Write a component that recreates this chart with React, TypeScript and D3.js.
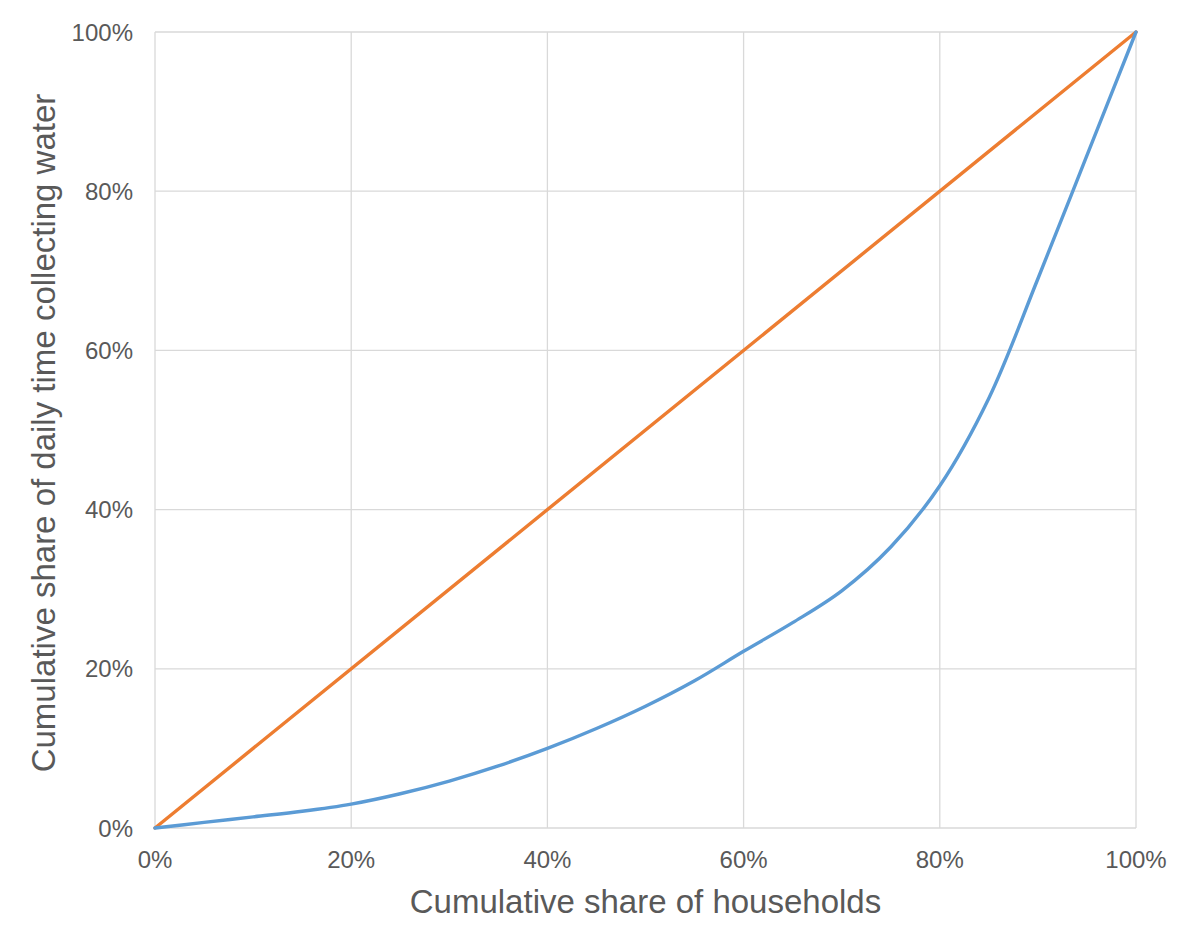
import React, {useRef, useEffect} from "react";
import {select, scaleLinear, line, curveCatmullRom} from "d3";

// cumulative share of households (%)
const householdShare = [0, 5, 10, 15, 20, 25, 30, 35, 40, 45, 50, 55, 60, 65, 70, 75, 80, 85, 90, 95, 100];
// cumulative share of daily time collecting water (%)
const timeShare = [0, 0.7, 1.4, 2.1, 3.0, 4.3, 5.9, 7.8, 10.0, 12.5, 15.3, 18.5, 22.2, 25.8, 29.8, 35.3, 43, 54, 69, 84.5, 100];
// line of equality
const equalityX = [0, 100];
const equalityY = [0, 100];
const tickValues = [0, 20, 40, 60, 80, 100];

const xTitle = "Cumulative share of households";
const yTitle = "Cumulative share of daily time collecting water";

export default function App() {
    const svgRef = useRef<SVGSVGElement | null>(null);

    const width = 1200;
    const height = 933;
    const marginLeft = 155;
    const marginRight = 64;
    const marginTop = 32;
    const marginBottom = 105;

    useEffect(() => {
        const svg = select(svgRef.current);
        if (!svgRef.current) return;
        svg.selectAll("*").remove();

        const xScale = scaleLinear()
            .domain([0, 100])
            .range([marginLeft, width - marginRight]);
        const yScale = scaleLinear()
            .domain([0, 100])
            .range([height - marginBottom, marginTop]);

        const font = "'Liberation Sans', Arial, sans-serif";
        const textColor = "#595959";

        // gridlines
        svg.append("g")
            .selectAll("line.vgrid")
            .data(tickValues)
            .join("line")
            .attr("class", "vgrid")
            .attr("x1", (d) => xScale(d))
            .attr("x2", (d) => xScale(d))
            .attr("y1", yScale(0))
            .attr("y2", yScale(100))
            .attr("stroke", "#d9d9d9")
            .attr("stroke-width", 1.3);
        svg.append("g")
            .selectAll("line.hgrid")
            .data(tickValues)
            .join("line")
            .attr("class", "hgrid")
            .attr("x1", xScale(0))
            .attr("x2", xScale(100))
            .attr("y1", (d) => yScale(d))
            .attr("y2", (d) => yScale(d))
            .attr("stroke", "#d9d9d9")
            .attr("stroke-width", 1.3);

        // tick labels
        svg.append("g")
            .selectAll("text")
            .data(tickValues)
            .join("text")
            .attr("x", (d) => xScale(d))
            .attr("y", yScale(0) + 40)
            .attr("text-anchor", "middle")
            .attr("font-family", font)
            .attr("font-size", 24)
            .attr("fill", textColor)
            .text((d) => `${d}%`);
        svg.append("g")
            .selectAll("text")
            .data(tickValues)
            .join("text")
            .attr("x", xScale(0) - 22)
            .attr("y", (d) => yScale(d) + 8.5)
            .attr("text-anchor", "end")
            .attr("font-family", font)
            .attr("font-size", 24)
            .attr("fill", textColor)
            .text((d) => `${d}%`);

        // axis titles
        svg.append("text")
            .attr("x", (xScale(0) + xScale(100)) / 2)
            .attr("y", height - 20)
            .attr("text-anchor", "middle")
            .attr("font-family", font)
            .attr("font-size", 33)
            .attr("fill", textColor)
            .text(xTitle);
        svg.append("text")
            .attr("transform", `translate(55, ${(yScale(0) + yScale(100)) / 2 + 3}) rotate(-90)`)
            .attr("text-anchor", "middle")
            .attr("font-family", font)
            .attr("font-size", 33)
            .attr("fill", textColor)
            .text(yTitle);

        // equality line
        const straight = line<number>()
            .x((d, i) => xScale(equalityX[i]))
            .y((d) => yScale(d));
        svg.append("path")
            .datum(equalityY)
            .attr("d", straight)
            .attr("fill", "none")
            .attr("stroke", "#ed7d31")
            .attr("stroke-width", 3.4)
            .attr("stroke-linecap", "round");

        // lorenz curve
        const curve = line<number>()
            .x((d, i) => xScale(householdShare[i]))
            .y((d) => yScale(d))
            .curve(curveCatmullRom.alpha(0.5));
        svg.append("path")
            .datum(timeShare)
            .attr("d", curve)
            .attr("fill", "none")
            .attr("stroke", "#5b9bd5")
            .attr("stroke-width", 3.4)
            .attr("stroke-linecap", "round");
    }, []);

    return (
        <svg
            ref={svgRef}
            width={width}
            height={height}
            style={{position: "absolute", left: 0, top: 0, background: "#fff"}}
        ></svg>
    );
}
